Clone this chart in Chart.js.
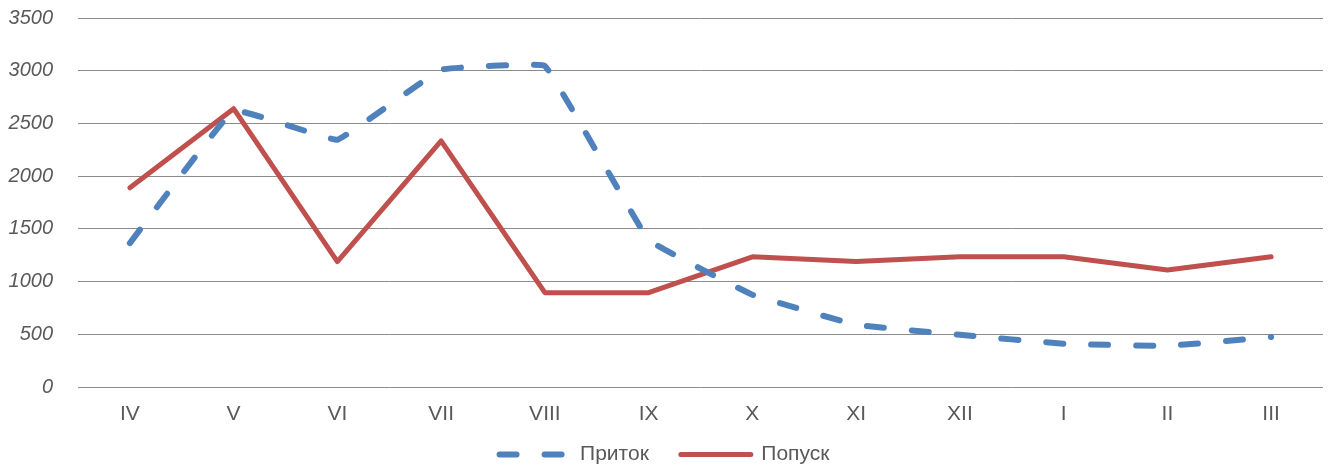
<!DOCTYPE html>
<html>
<head>
<meta charset="utf-8">
<script src="https://cdn.jsdelivr.net/npm/chart.js@4"></script>
<style>
  html, body { margin: 0; padding: 0; background: #fff; }
  #wrap { width: 1330px; height: 468px; position: relative; }
</style>
</head>
<body>
<div id="wrap"><canvas id="chart_flow"></canvas></div>
<script>
var months = ['IV', 'V', 'VI', 'VII', 'VIII', 'IX', 'X', 'XI', 'XII', 'I', 'II', 'III'];
var inflow = [1365, 2625, 2345, 3010, 3045, 1395, 875, 590, 495, 410, 390, 475];
var release = [1890, 2640, 1190, 2335, 895, 895, 1235, 1190, 1235, 1235, 1110, 1235];
var yTicks = [0, 500, 1000, 1500, 2000, 2500, 3000, 3500];

var fontFamily = '"Liberation Sans", Arial, sans-serif';

var chart_flow = new Chart(document.getElementById('chart_flow'), {
    type: 'line',
    data: {
        labels: months,
        datasets: [
            {
                label: 'Приток',
                data: inflow,
                borderColor: '#4F81BD',
                backgroundColor: '#4F81BD',
                borderWidth: 6,
                borderDash: [17, 28],
                borderCapStyle: 'round',
                tension: 0.06,
                pointRadius: 0,
                fill: false
            },
            {
                label: 'Попуск',
                data: release,
                borderColor: '#C0504D',
                backgroundColor: '#C0504D',
                borderWidth: 5,
                borderCapStyle: 'round',
                borderJoinStyle: 'round',
                tension: 0,
                pointRadius: 0,
                fill: false
            }
        ]
    },
    options: {
        animation: false,
        responsive: true,
        maintainAspectRatio: false,
        layout: { padding: { top: 0, right: 7, left: 0, bottom: 0 } },
        plugins: {
            legend: {
                position: 'bottom',
                maxHeight: 41,
                labels: {
                    usePointStyle: true,
                    pointStyle: 'line',
                    pointStyleWidth: 70,
                    padding: 32,
                    color: '#595959',
                    font: { family: fontFamily, size: 21 },
                    generateLabels: function (chart) {
                        var items = Chart.defaults.plugins.legend.labels.generateLabels(chart);
                        items.forEach(function (it) {
                            var ds = chart.data.datasets[it.datasetIndex];
                            it.lineDash = ds.borderDash || [];
                            it.lineWidth = ds.borderWidth;
                            it.lineCap = 'round';
                            it.strokeStyle = ds.borderColor;
                            it.fillStyle = ds.borderColor;
                        });
                        return items;
                    }
                }
            },
            tooltip: { enabled: false }
        },
        scales: {
            x: {
                offset: true,
                grid: { display: false, drawTicks: false },
                border: { display: false },
                afterFit: function (scale) { scale.height = 40; },
                ticks: {
                    padding: 15,
                    color: '#595959',
                    font: { family: fontFamily, size: 21 }
                }
            },
            y: {
                min: 0,
                max: 3500,
                afterBuildTicks: function (axis) {
                    axis.ticks = yTicks.map(function (v) { return { value: v }; });
                },
                afterFit: function (scale) { scale.width = 78; },
                grid: { color: '#8C8C8C', lineWidth: 1, drawTicks: true, tickLength: 19, tickColor: 'rgba(0,0,0,0)' },
                border: { display: false },
                ticks: {
                    padding: 6,
                    color: '#595959',
                    font: { family: fontFamily, size: 20, style: 'italic' },
                    callback: function (v) { return String(v); }
                }
            }
        }
    },
    plugins: [{
        id: 'legendPlace',
        afterLayout: function (chart) {
            var lg = chart.legend;
            lg.left += 3;
            lg.right += 3;
            lg.top = 412;
            lg.bottom = 468;
            lg.height = 56;
        }
    }]
});
</script>
</body>
</html>
